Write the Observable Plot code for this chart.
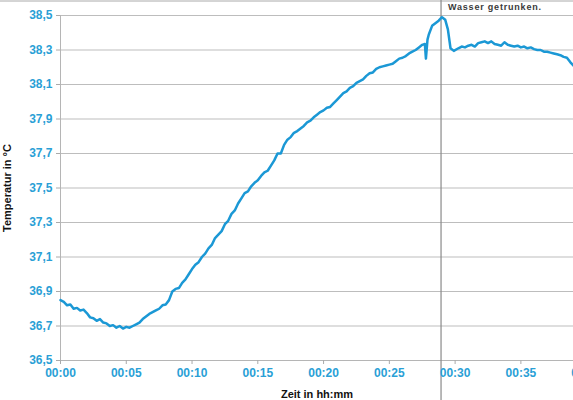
<!DOCTYPE html>
<html>
<head>
<meta charset="utf-8">
<script src="https://cdn.jsdelivr.net/npm/d3@7"></script>
<script src="https://cdn.jsdelivr.net/npm/@observablehq/plot@0.6"></script>
<style>
  html, body { margin: 0; padding: 0; background: #fff; }
  #chart svg { display: block; }
</style>
</head>
<body>
<div id="chart"></div>
<script>
// time in minutes since start
const minutes = [
  0, 0.25, 0.5, 0.75, 1, 1.25, 1.5, 1.75, 2, 2.25, 2.5, 2.75, 3, 3.25, 3.5, 3.75, 4, 4.25, 4.5, 4.75,
  5, 5.25, 5.5, 5.75, 6, 6.25, 6.5, 6.75, 7, 7.25, 7.5, 7.75, 8, 8.25, 8.5, 8.75, 9, 9.25, 9.5, 9.75,
  10, 10.25, 10.5, 10.75, 11, 11.25, 11.5, 11.75, 12, 12.25, 12.5, 12.75, 13, 13.25, 13.5, 13.75, 14, 14.25, 14.5, 14.75,
  15, 15.25, 15.5, 15.75, 16, 16.25, 16.5, 16.75, 17, 17.25, 17.5, 17.75, 18, 18.25, 18.5, 18.75, 19, 19.25, 19.5, 19.75,
  20, 20.25, 20.5, 20.75, 21, 21.25, 21.5, 21.75, 22, 22.25, 22.5, 22.75, 23, 23.25, 23.5, 23.75, 24, 24.25, 24.5, 24.75,
  25, 25.25, 25.5, 25.75, 26, 26.25, 26.5, 26.75, 27, 27.25, 27.5, 27.7, 27.78, 27.9, 28, 28.25, 28.5, 28.75,
  29, 29.25, 29.45, 29.65, 29.9, 30.25, 30.5, 30.75, 31, 31.25, 31.5, 31.75, 32, 32.25, 32.5, 32.75,
  33, 33.25, 33.5, 33.75, 34, 34.25, 34.5, 34.75, 35, 35.25, 35.5, 35.75, 36, 36.25, 36.5, 36.75,
  37, 37.25, 37.5, 37.75, 38, 38.25, 38.5, 38.75, 39
];
// temperature in °C
const temps = [
  36.85, 36.84, 36.82, 36.825, 36.80, 36.805, 36.79, 36.795, 36.775, 36.75, 36.745, 36.73, 36.74, 36.72, 36.715, 36.70, 36.705, 36.69, 36.70, 36.685,
  36.695, 36.69, 36.70, 36.71, 36.72, 36.74, 36.755, 36.77, 36.78, 36.79, 36.80, 36.82, 36.825, 36.85, 36.90, 36.915, 36.92, 36.95, 36.97, 37.00,
  37.03, 37.055, 37.07, 37.10, 37.12, 37.15, 37.17, 37.21, 37.23, 37.25, 37.29, 37.31, 37.35, 37.37, 37.41, 37.44, 37.47, 37.48, 37.51, 37.53,
  37.545, 37.57, 37.59, 37.60, 37.63, 37.66, 37.70, 37.70, 37.75, 37.78, 37.795, 37.82, 37.83, 37.845, 37.86, 37.88, 37.89, 37.91, 37.925, 37.94,
  37.95, 37.965, 37.97, 37.99, 38.01, 38.03, 38.05, 38.06, 38.08, 38.09, 38.11, 38.12, 38.13, 38.15, 38.165, 38.17, 38.19, 38.20, 38.205, 38.21,
  38.215, 38.22, 38.235, 38.25, 38.255, 38.265, 38.28, 38.29, 38.30, 38.315, 38.33, 38.335, 38.25, 38.36, 38.39, 38.44, 38.455, 38.47,
  38.49, 38.475, 38.42, 38.31, 38.295, 38.31, 38.32, 38.315, 38.325, 38.33, 38.32, 38.34, 38.345, 38.35, 38.34, 38.35,
  38.335, 38.33, 38.325, 38.345, 38.33, 38.325, 38.32, 38.325, 38.315, 38.32, 38.31, 38.315, 38.305, 38.30, 38.30, 38.29,
  38.29, 38.285, 38.28, 38.275, 38.27, 38.26, 38.255, 38.23, 38.21
];
const yTicks = [36.5, 36.7, 36.9, 37.1, 37.3, 37.5, 37.7, 37.9, 38.1, 38.3, 38.5];
const xTicks = [0, 5, 10, 15, 20, 25, 30, 35, 40];
const eventMinute = [28.93];
const eventLabel = ["Wasser getrunken."];

const data = minutes.map((m, i) => ({m, t: temps[i]}));
const blue = "#2a9fd6";
const fmtY = d => d.toFixed(1).replace(".", ",");
const fmtX = d => "00:" + String(d).padStart(2, "0");

const chart = Plot.plot({
  width: 573,
  height: 400,
  marginLeft: 60,
  marginRight: 0,
  marginTop: 15,
  marginBottom: 40,
  style: {fontFamily: "'Liberation Sans', Arial, sans-serif", background: "#fff", overflow: "hidden"},
  x: {domain: [0, 39]},
  y: {domain: [36.5, 38.5]},
  marks: [
    Plot.gridY(yTicks, {stroke: "#bdbdbd", strokeOpacity: 1}),
    Plot.ruleY([38.5], {stroke: "#aaa", dy: -14.5, insetLeft: -60}),
    Plot.ruleX([0], {stroke: "#b5b5b5"}),
    Plot.ruleY([36.5], {stroke: "#b5b5b5"}),
    Plot.ruleX(eventMinute, {stroke: "#8a8a8a", strokeWidth: 1.2, insetTop: -15, insetBottom: -40}),
    Plot.text(eventLabel, {x: eventMinute, y: [38.5], dy: -8, dx: 7, text: d => d, textAnchor: "start",
      fontSize: 9, fontWeight: "bold", fill: "#3a3a3a", className: "event-note"}),
    Plot.axisY(yTicks, {tickFormat: fmtY, tickSize: 4, tickPadding: 4, stroke: "#aaa",
      fill: blue, fontSize: 12, fontWeight: "bold",
      label: "Temperatur in °C", labelAnchor: "center", labelArrow: "none", labelOffset: 57}),
    Plot.axisX(xTicks, {tickFormat: fmtX, tickSize: 4, tickPadding: 4, stroke: "#aaa",
      fill: blue, fontSize: 12, fontWeight: "bold",
      label: "Zeit in hh:mm", labelAnchor: "center", labelArrow: "none", labelOffset: 37}),
    Plot.lineY(data, {x: "m", y: "t", stroke: "#1b98d5", strokeWidth: 2.5})
  ]
});
// style axis titles black
chart.querySelectorAll("[aria-label='y-axis label'], [aria-label='x-axis label']").forEach(g => {
  g.setAttribute("fill", "#111");
  g.setAttribute("font-size", "11");
  g.setAttribute("font-weight", "bold");
});
chart.querySelectorAll(".event-note text, g.event-note text").forEach(t => {
  t.setAttribute("letter-spacing", "0.8");
});
document.getElementById("chart").appendChild(chart);
</script>
</body>
</html>
